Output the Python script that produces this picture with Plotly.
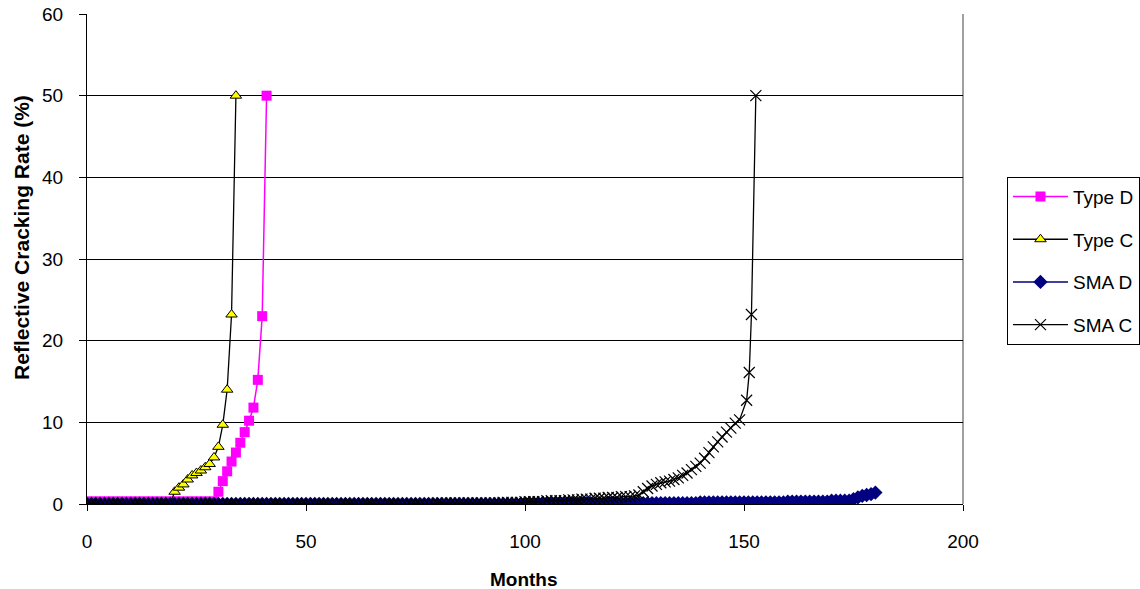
import plotly.graph_objects as go

# ---------------- data ----------------
type_d_months = list(range(0, 42))
type_d_values = [
    0.3, 0.3, 0.3, 0.3, 0.3, 0.3, 0.3, 0.3, 0.3, 0.3,
    0.3, 0.3, 0.3, 0.3, 0.3, 0.3, 0.3, 0.3, 0.3, 0.3,
    0.3, 0.3, 0.3, 0.3, 0.3, 0.3, 0.3, 0.3, 0.3, 0.3,
    1.5, 2.8, 4.0, 5.2, 6.3, 7.5, 8.8, 10.2, 11.8, 15.2,
    23.0, 50.0,
]

type_c_months = list(range(0, 35))
type_c_values = [
    0.0, 0.0, 0.0, 0.0, 0.0, 0.0, 0.0, 0.0, 0.0, 0.0,
    0.0, 0.0, 0.0, 0.0, 0.0, 0.0, 0.0, 0.0, 0.0, 0.0,
    1.5, 2.0, 2.4, 3.0, 3.5, 3.8, 4.1, 4.5, 4.9, 5.7,
    7.0, 9.7, 14.0, 23.2, 50.0,
]

sma_d_months = list(range(0, 181))
sma_d_values = [
    0.0, 0.0, 0.0, 0.0, 0.0, 0.0, 0.0, 0.0, 0.0, 0.0,
    0.0, 0.0, 0.0, 0.0, 0.0, 0.0, 0.0, 0.0, 0.0, 0.0,
    0.0, 0.0, 0.0, 0.0, 0.0, 0.0, 0.0, 0.0, 0.0, 0.0,
    0.0, 0.0, 0.0, 0.0, 0.0, 0.0, 0.0, 0.0, 0.0, 0.0,
    0.0, 0.0, 0.0, 0.0, 0.0, 0.0, 0.0, 0.0, 0.0, 0.0,
    0.0, 0.0, 0.0, 0.0, 0.0, 0.0, 0.0, 0.0, 0.0, 0.0,
    0.0, 0.0, 0.0, 0.0, 0.0, 0.0, 0.0, 0.0, 0.0, 0.0,
    0.0, 0.0, 0.0, 0.0, 0.0, 0.0, 0.0, 0.0, 0.0, 0.0,
    0.0, 0.0, 0.0, 0.0, 0.0, 0.0, 0.0, 0.0, 0.0, 0.0,
    0.0, 0.0, 0.0, 0.0, 0.0, 0.0, 0.0, 0.0, 0.0, 0.0,
    0.1, 0.1, 0.1, 0.1, 0.1, 0.1, 0.1, 0.1, 0.1, 0.1,
    0.1, 0.1, 0.1, 0.1, 0.1, 0.1, 0.1, 0.1, 0.1, 0.1,
    0.1, 0.1, 0.1, 0.1, 0.1, 0.1, 0.1, 0.1, 0.1, 0.1,
    0.1, 0.1, 0.1, 0.1, 0.1, 0.1, 0.1, 0.1, 0.1, 0.1,
    0.2, 0.2, 0.2, 0.2, 0.2, 0.2, 0.2, 0.2, 0.2, 0.2,
    0.2, 0.2, 0.2, 0.2, 0.2, 0.2, 0.2, 0.2, 0.2, 0.2,
    0.3, 0.3, 0.3, 0.3, 0.3, 0.3, 0.3, 0.3, 0.3, 0.3,
    0.4, 0.4, 0.4, 0.4, 0.4, 0.6, 0.8, 1.0, 1.1, 1.2,
    1.4,
]

sma_c_months = list(range(0, 149)) + [149, 150.6, 151.2, 151.7, 152.7]
sma_c_values = [
    0.0, 0.0, 0.0, 0.0, 0.0, 0.0, 0.0, 0.0, 0.0, 0.0,
    0.0, 0.0, 0.0, 0.0, 0.0, 0.0, 0.0, 0.0, 0.0, 0.0,
    0.0, 0.0, 0.0, 0.0, 0.0, 0.0, 0.0, 0.0, 0.0, 0.0,
    0.0, 0.0, 0.0, 0.0, 0.0, 0.0, 0.0, 0.0, 0.0, 0.0,
    0.0, 0.0, 0.0, 0.0, 0.0, 0.0, 0.0, 0.0, 0.0, 0.0,
    0.0, 0.0, 0.0, 0.0, 0.0, 0.0, 0.0, 0.0, 0.0, 0.0,
    0.0, 0.0, 0.0, 0.0, 0.0, 0.0, 0.0, 0.0, 0.0, 0.0,
    0.0, 0.0, 0.0, 0.0, 0.0, 0.0, 0.0, 0.0, 0.0, 0.0,
    0.1, 0.1, 0.1, 0.1, 0.1, 0.1, 0.1, 0.1, 0.1, 0.1,
    0.1, 0.1, 0.1, 0.1, 0.1, 0.2, 0.2, 0.2, 0.2, 0.2,
    0.3, 0.3, 0.3, 0.3, 0.3, 0.4, 0.4, 0.4, 0.4, 0.4,
    0.5, 0.5, 0.5, 0.6, 0.6, 0.6, 0.7, 0.7, 0.7, 0.8,
    0.8, 0.8, 0.9, 0.9, 0.9, 1.0, 1.1, 1.5, 1.9, 2.2,
    2.4, 2.6, 2.7, 2.8, 3.0, 3.2, 3.5, 3.8, 4.2, 4.6,
    5.0, 5.6, 6.3, 7.0, 7.6, 8.2, 8.8, 9.3, 9.9,
    10.3, 12.7, 16.1, 23.2, 50.0,
]

x_ticks = [0, 50, 100, 150, 200]
y_ticks = [0, 10, 20, 30, 40, 50, 60]

FONT = "Arial, 'Liberation Sans', sans-serif"

fig = go.Figure()
fig.add_trace(go.Scatter(
    x=type_d_months, y=type_d_values, name="Type D", mode="lines+markers",
    legendgroup="a",
    line=dict(color="#FF00FF", width=1.5),
    marker=dict(symbol="square", size=10, color="#FF00FF"),
))
fig.add_trace(go.Scatter(
    x=type_c_months, y=type_c_values, name="Type C", mode="lines+markers",
    legendgroup="b",
    line=dict(color="#000000", width=1.3),
    marker=dict(symbol="triangle-up", size=10, color="#FFFF00",
                line=dict(color="#000000", width=1)),
))
fig.add_trace(go.Scatter(
    x=sma_d_months, y=sma_d_values, name="SMA D", mode="lines+markers",
    legendgroup="c",
    line=dict(color="#000080", width=1.5),
    marker=dict(symbol="diamond", size=11, color="#000080"),
))
fig.add_trace(go.Scatter(
    x=sma_c_months, y=sma_c_values, name="SMA C", mode="lines+markers",
    legendgroup="d",
    line=dict(color="#000000", width=1.3),
    marker=dict(symbol="x-thin", size=11, color="#000000",
                line=dict(color="#000000", width=1.2)),
))

fig.update_layout(
    width=1140, height=589,
    margin=dict(l=87, r=177, t=14, b=85, autoexpand=False),
    paper_bgcolor="white", plot_bgcolor="white",
    font=dict(family=FONT, color="#000000", size=19),
    showlegend=True,
    legend=dict(
        x=1.0502, y=0.668, xanchor="left", yanchor="top",
        bgcolor="white", bordercolor="#000000", borderwidth=1,
        font=dict(family=FONT, size=19, color="#000000"),
        itemwidth=55, tracegroupgap=15, traceorder="grouped",
    ),
    xaxis=dict(
        range=[0, 200], tickvals=x_ticks, ticktext=[str(v) for v in x_ticks],
        showgrid=False, zeroline=False,
        showline=True, linecolor="#000000", linewidth=1,
        ticks="outside", ticklen=6, tickcolor="#000000",
        ticklabelstandoff=14, ticklabeloverflow="allow",
        tickfont=dict(family=FONT, size=19, color="#000000"),
    ),
    yaxis=dict(
        range=[0, 60], tickvals=y_ticks, ticktext=[str(v) for v in y_ticks],
        showgrid=True, gridcolor="#000000", gridwidth=1, zeroline=False,
        showline=True, linecolor="#000000", linewidth=1,
        ticks="outside", ticklen=7, tickcolor="#000000",
        ticklabelstandoff=12, ticklabeloverflow="allow",
        tickfont=dict(family=FONT, size=19, color="#000000"),
    ),
    shapes=[dict(type="line", xref="paper", yref="paper", x0=1, x1=1, y0=0, y1=1,
                 line=dict(color="#808080", width=1.5), layer="below")],
    annotations=[
        dict(text="Months", xref="paper", yref="paper", x=0.499, y=-0.155,
             xanchor="center", yanchor="middle", showarrow=False,
             font=dict(family=FONT, size=19, color="#000000", weight="bold")),
        dict(text="Reflective Cracking Rate (%)", xref="paper", yref="paper",
             x=-0.0742, y=0.543, xanchor="center", yanchor="middle",
             textangle=-90, showarrow=False,
             font=dict(family=FONT, size=21, color="#000000", weight="bold")),
    ],
)

fig.write_html("out.html", config={"displayModeBar": False},
               post_script="document.body.style.margin='0';document.body.style.overflow='hidden';")
